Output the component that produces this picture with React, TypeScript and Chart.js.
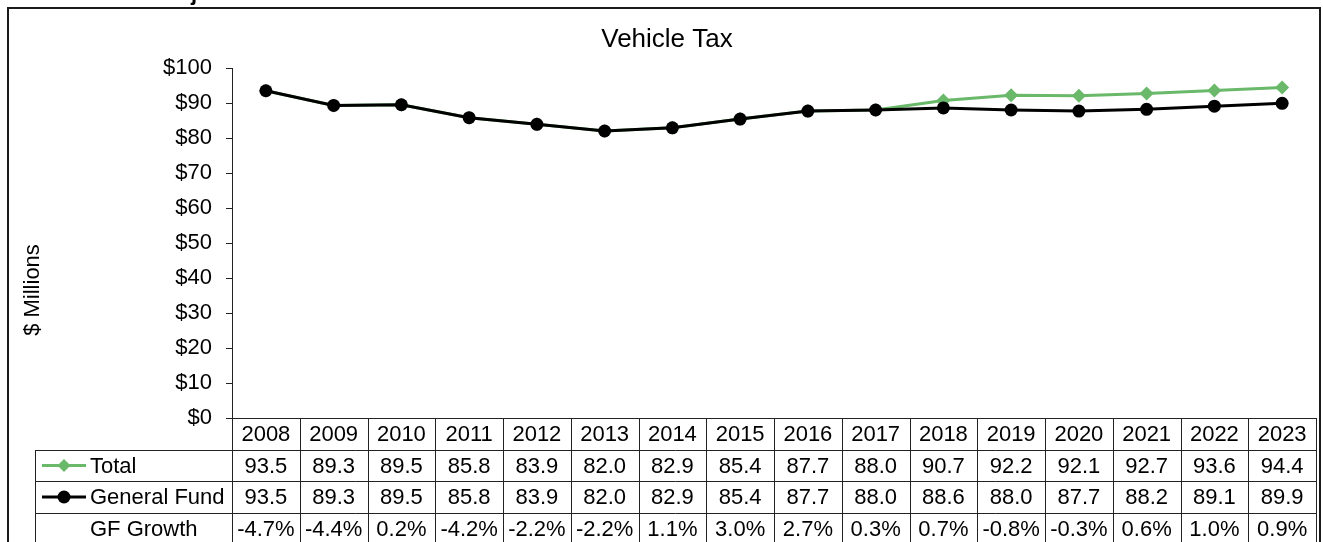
import React, { useEffect, useRef } from "react";
import { Chart, registerables } from "chart.js";

Chart.register(...registerables);

const years = ["2008", "2009", "2010", "2011", "2012", "2013", "2014", "2015", "2016", "2017", "2018", "2019", "2020", "2021", "2022", "2023"];
const totalValues = [93.5, 89.3, 89.5, 85.8, 83.9, 82.0, 82.9, 85.4, 87.7, 88.0, 90.7, 92.2, 92.1, 92.7, 93.6, 94.4];
const generalFundValues = [93.5, 89.3, 89.5, 85.8, 83.9, 82.0, 82.9, 85.4, 87.7, 88.0, 88.6, 88.0, 87.7, 88.2, 89.1, 89.9];
const gfGrowth = ["-4.7%", "-4.4%", "0.2%", "-4.2%", "-2.2%", "-2.2%", "1.1%", "3.0%", "2.7%", "0.3%", "0.7%", "-0.8%", "-0.3%", "0.6%", "1.0%", "0.9%"];
const yTicks = [0, 10, 20, 30, 40, 50, 60, 70, 80, 90, 100];

const chartTitle = "Vehicle Tax";
const headingText = "Vehicle Tax Projection";
const yAxisTitle = "$ Millions";
const totalLabel = "Total";
const gfLabel = "General Fund";
const growthLabel = "GF Growth";

const GREEN = "#6ab86a";
const FONT = "Arial, 'Liberation Sans', sans-serif";

const W = 1323;
const H = 542;

export default function App() {
  const ref = useRef<HTMLCanvasElement | null>(null);

  useEffect(() => {
    const canvas = ref.current;
    if (!canvas) return;

    const tablePlugin = {
      id: "dataTable",
      afterDraw(chart: any) {
        const ctx = chart.ctx as CanvasRenderingContext2D;
        const area = chart.chartArea;
        const xs = chart.scales.x;
        const n = years.length;
        const colW = (area.right - area.left) / n;
        const top = Math.round(area.bottom);
        const rowH = [32, 31, 32, 32];
        const rowTops = [top, top + rowH[0], top + rowH[0] + rowH[1], top + rowH[0] + rowH[1] + rowH[2]];
        const legendLeft = 35;
        const right = Math.round(area.right);

        ctx.save();
        // frame
        ctx.strokeStyle = "#1a1a1a";
        ctx.lineWidth = 2;
        ctx.strokeRect(8, 8, 1312, 700);

        // clipped heading
        ctx.fillStyle = "#000";
        ctx.font = `bold 22px ${FONT}`;
        ctx.textAlign = "left";
        ctx.textBaseline = "alphabetic";
        ctx.fillText(headingText, 30, -0.5);

        // title
        ctx.font = `26px ${FONT}`;
        ctx.textAlign = "center";
        ctx.textBaseline = "middle";
        ctx.fillText(chartTitle, 667, 40);

        // y title
        ctx.save();
        ctx.translate(33, 290);
        ctx.rotate(-Math.PI / 2);
        ctx.font = `22px ${FONT}`;
        ctx.fillText(yAxisTitle, 0, 0);
        ctx.restore();

        // table grid
        ctx.strokeStyle = "#222";
        ctx.lineWidth = 1;
        ctx.beginPath();
        ctx.moveTo(area.left, top + 0.5);
        ctx.lineTo(right, top + 0.5);
        for (let r = 1; r < rowTops.length; r++) {
          ctx.moveTo(legendLeft, rowTops[r] + 0.5);
          ctx.lineTo(right, rowTops[r] + 0.5);
        }
        for (let i = 0; i <= n; i++) {
          const x = Math.round(area.left + i * colW) + 0.5;
          ctx.moveTo(x, top);
          ctx.lineTo(x, H + 5);
        }
        ctx.moveTo(legendLeft + 0.5, rowTops[1]);
        ctx.lineTo(legendLeft + 0.5, H + 5);
        ctx.stroke();

        // cell text
        ctx.fillStyle = "#000";
        ctx.font = `22px ${FONT}`;
        ctx.textAlign = "center";
        ctx.textBaseline = "middle";
        for (let i = 0; i < n; i++) {
          const cx = xs.getPixelForValue(i);
          ctx.fillText(years[i], cx, rowTops[0] + rowH[0] / 2 + 1);
          ctx.fillText(totalValues[i].toFixed(1), cx, rowTops[1] + rowH[1] / 2 + 1);
          ctx.fillText(generalFundValues[i].toFixed(1), cx, rowTops[2] + rowH[2] / 2 + 1);
          ctx.fillText(gfGrowth[i], cx, rowTops[3] + rowH[3] / 2 + 1);
        }

        // legend keys
        ctx.textAlign = "left";
        const keyY1 = rowTops[1] + rowH[1] / 2;
        const keyY2 = rowTops[2] + rowH[2] / 2;
        ctx.strokeStyle = GREEN;
        ctx.lineWidth = 3;
        ctx.beginPath();
        ctx.moveTo(42, keyY1);
        ctx.lineTo(86, keyY1);
        ctx.stroke();
        ctx.fillStyle = GREEN;
        ctx.beginPath();
        ctx.moveTo(64, keyY1 - 6.5);
        ctx.lineTo(70.5, keyY1);
        ctx.lineTo(64, keyY1 + 6.5);
        ctx.lineTo(57.5, keyY1);
        ctx.closePath();
        ctx.fill();

        ctx.strokeStyle = "#000";
        ctx.beginPath();
        ctx.moveTo(42, keyY2);
        ctx.lineTo(86, keyY2);
        ctx.stroke();
        ctx.fillStyle = "#000";
        ctx.beginPath();
        ctx.arc(64, keyY2, 6.5, 0, Math.PI * 2);
        ctx.fill();

        ctx.fillStyle = "#000";
        ctx.fillText(totalLabel, 90, keyY1 + 1);
        ctx.fillText(gfLabel, 90, keyY2 + 1);
        ctx.fillText(growthLabel, 90, rowTops[3] + rowH[3] / 2 + 1);
        ctx.restore();
      },
    };

    const chart = new Chart(canvas, {
      type: "line",
      data: {
        labels: years,
        datasets: [
          {
            label: gfLabel,
            data: generalFundValues,
            borderColor: "#000",
            backgroundColor: "#000",
            borderWidth: 3,
            pointStyle: "circle",
            pointRadius: 6.5,
            pointBorderWidth: 0,
            pointBackgroundColor: "#000",
            tension: 0,
            order: 1,
          },
          {
            label: totalLabel,
            data: totalValues,
            borderColor: GREEN,
            backgroundColor: GREEN,
            borderWidth: 3,
            pointStyle: "rectRot",
            pointRadius: 7,
            pointBorderWidth: 0,
            pointBackgroundColor: GREEN,
            tension: 0,
            order: 2,
          },
        ],
      },
      options: {
        responsive: false,
        animation: false,
        layout: { padding: { left: 0, top: 68, right: 5, bottom: H - 418 } },
        plugins: {
          legend: { display: false },
          title: { display: false },
          tooltip: { enabled: false },
        },
        scales: {
          x: {
            type: "category",
            offset: true,
            display: false,
          },
          y: {
            min: 0,
            max: 100,
            afterFit: (scale: any) => {
              scale.width = 232;
            },
            afterBuildTicks: (scale: any) => {
              scale.ticks = yTicks.map((v) => ({ value: v }));
            },
            ticks: {
              color: "#000",
              font: { size: 22, family: FONT },
              padding: 14,
              callback: (v: any) => `$${v}`,
            },
            grid: {
              drawOnChartArea: false,
              drawTicks: true,
              tickLength: 6,
              color: "#222",
            },
            border: { display: true, color: "#222", width: 1 },
          },
        },
      },
      plugins: [tablePlugin],
    });

    return () => chart.destroy();
  }, []);

  return (
    <div style={{ position: "fixed", left: 0, top: 0, width: W, height: H, background: "#fff" }}>
      <canvas ref={ref} width={W} height={H} style={{ width: W, height: H, display: "block" }} />
    </div>
  );
}
